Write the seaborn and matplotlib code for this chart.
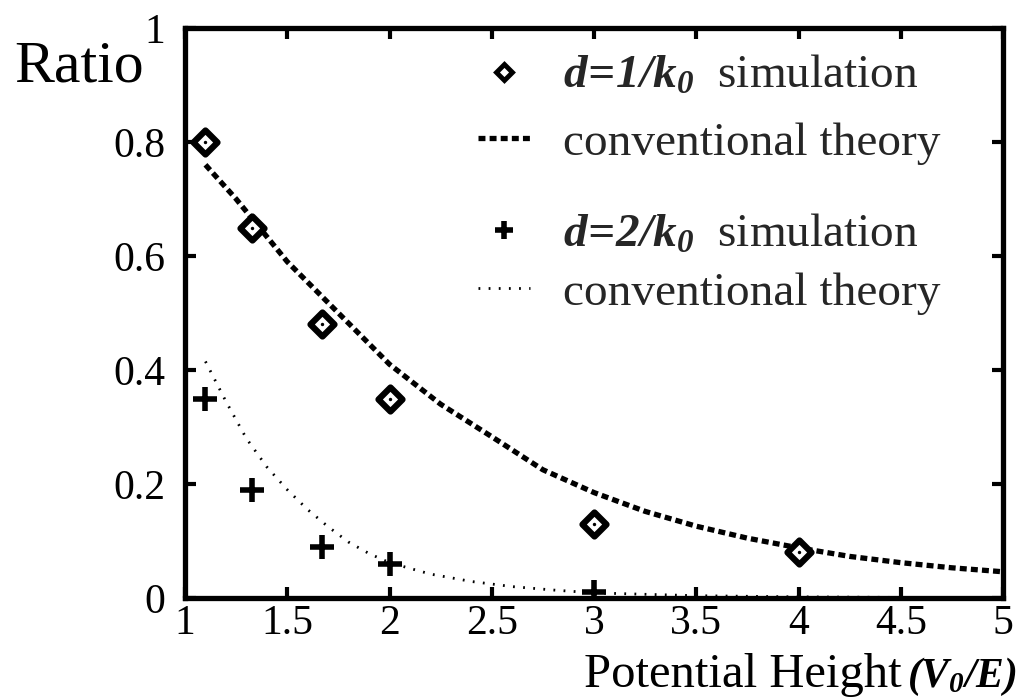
import matplotlib
matplotlib.use("Agg")
import matplotlib.pyplot as plt
import seaborn as sns
from matplotlib.lines import Line2D

# simulation points
sim1_x = [1.1, 1.33, 1.67, 2.0, 3.0, 4.0]
sim1_y = [0.80, 0.65, 0.48, 0.35, 0.13, 0.08]
sim2_x = [1.1, 1.33, 1.67, 2.0, 3.0]
sim2_y = [0.35, 0.19, 0.09, 0.06, 0.01]

# conventional theory curves
theory1_x = [1.1, 1.25, 1.5, 1.75, 2.0, 2.25, 2.5, 2.75, 3.0, 3.25, 3.5,
             3.75, 4.0, 4.25, 4.5, 4.75, 5.0]
theory1_y = [0.76, 0.70, 0.59, 0.50, 0.41, 0.34, 0.283, 0.225, 0.185, 0.152,
             0.126, 0.105, 0.088, 0.073, 0.062, 0.053, 0.046]
theory2_x = [1.1, 1.2, 1.3, 1.4, 1.5, 1.6, 1.7, 1.8, 1.9, 2.0, 2.2, 2.4,
             2.6, 2.8, 3.0, 3.5, 4.0, 4.5, 5.0]
theory2_y = [0.415, 0.345, 0.28, 0.23, 0.19, 0.155, 0.125, 0.098, 0.078,
             0.062, 0.042, 0.029, 0.02, 0.014, 0.009, 0.004, 0.002, 0.001,
             0.0005]

xticks = [1, 1.5, 2, 2.5, 3, 3.5, 4, 4.5, 5]
xtick_labels = ["1", "1.5", "2", "2.5", "3", "3.5", "4", "4.5", "5"]
yticks = [0, 0.2, 0.4, 0.6, 0.8, 1]
ytick_labels = ["0", "0.2", "0.4", "0.6", "0.8", "1"]

sns.set_theme(style="ticks")
plt.rcParams["font.family"] = ["Liberation Serif", "DejaVu Serif"]
plt.rcParams["mathtext.fontset"] = "custom"
plt.rcParams["mathtext.rm"] = "Liberation Serif:italic:bold"
plt.rcParams["mathtext.it"] = "Liberation Serif:italic:bold"
plt.rcParams["mathtext.bf"] = "Liberation Serif:italic:bold"
plt.rcParams["lines.scale_dashes"] = False

fig = plt.figure(figsize=(10.22, 7), dpi=100)
ax = fig.add_axes([185 / 1022, 1 - 598 / 700, (1003 - 185) / 1022, 570 / 700])

dash1 = (5, 3)
dash2 = (1.3, 6)

sns.lineplot(x=theory1_x, y=theory1_y, ax=ax, color="black", lw=3.8)
ax.lines[-1].set_dashes(dash1)
sns.lineplot(x=theory2_x, y=theory2_y, ax=ax, color="black", lw=2)
ax.lines[-1].set_dashes(dash2)

sns.scatterplot(x=sim1_x, y=sim1_y, ax=ax, marker="D", s=150, color="white",
                edgecolor="black", linewidth=4.5, zorder=3)
sns.scatterplot(x=sim1_x, y=sim1_y, ax=ax, marker="o", s=6, color="black",
                edgecolor="black", linewidth=0, zorder=4)
sns.scatterplot(x=sim2_x, y=sim2_y, ax=ax, marker="+", s=280, color="black",
                edgecolor="black", linewidth=4, zorder=3)

ax.set_xlim(1, 5)
ax.set_ylim(0, 1)
ax.set_xticks(xticks, xtick_labels)
ax.set_yticks(yticks, ytick_labels)
ax.tick_params(direction="in", length=8, width=3, top=True, right=True,
               labelsize=30, color="black", labelcolor="black")
ax.tick_params(axis="x", pad=5)
ax.tick_params(axis="y", pad=14)
for sp in ax.spines.values():
    sp.set_linewidth(3.8)
    sp.set_color("black")

# axis titles
fig.text(902 / 1022, 1 - 687 / 700, "Potential Height", fontsize=35,
         ha="right", va="baseline", color="black")
fig.text(1017 / 1022, 1 - 687 / 700, r"$(V_0/E)$", fontsize=30,
         ha="right", va="baseline", color="black")
fig.text(79 / 1022, 1 - 82 / 700, "Ratio", fontsize=43,
         ha="center", va="baseline", color="black")

h1 = Line2D([], [], ls="none", marker="D", ms=8, mfc="white", mec="black", mew=3.5)
h2 = Line2D([], [], color="black", lw=3.8, dashes=dash1)
h3 = Line2D([], [], ls="none", marker="+", ms=13, color="black", mew=4)
h4 = Line2D([], [], color="black", lw=2, dashes=dash2)

leg_kw = dict(loc="upper left", frameon=False, fontsize=34, handlelength=1.1,
              handletextpad=0.7, borderaxespad=0, borderpad=0)
leg1 = ax.legend([h1, h2], [r"$d\!=\!1/k_0$  simulation", "conventional theory"],
                 bbox_to_anchor=(0.358, 0.953), labelspacing=0.5, **leg_kw)
ax.add_artist(leg1)
ax.legend([h3, h4], [r"$d\!=\!2/k_0$  simulation", "conventional theory"],
          bbox_to_anchor=(0.358, 0.675), labelspacing=0.32, **leg_kw)

fig.savefig("out.png", dpi=100)
